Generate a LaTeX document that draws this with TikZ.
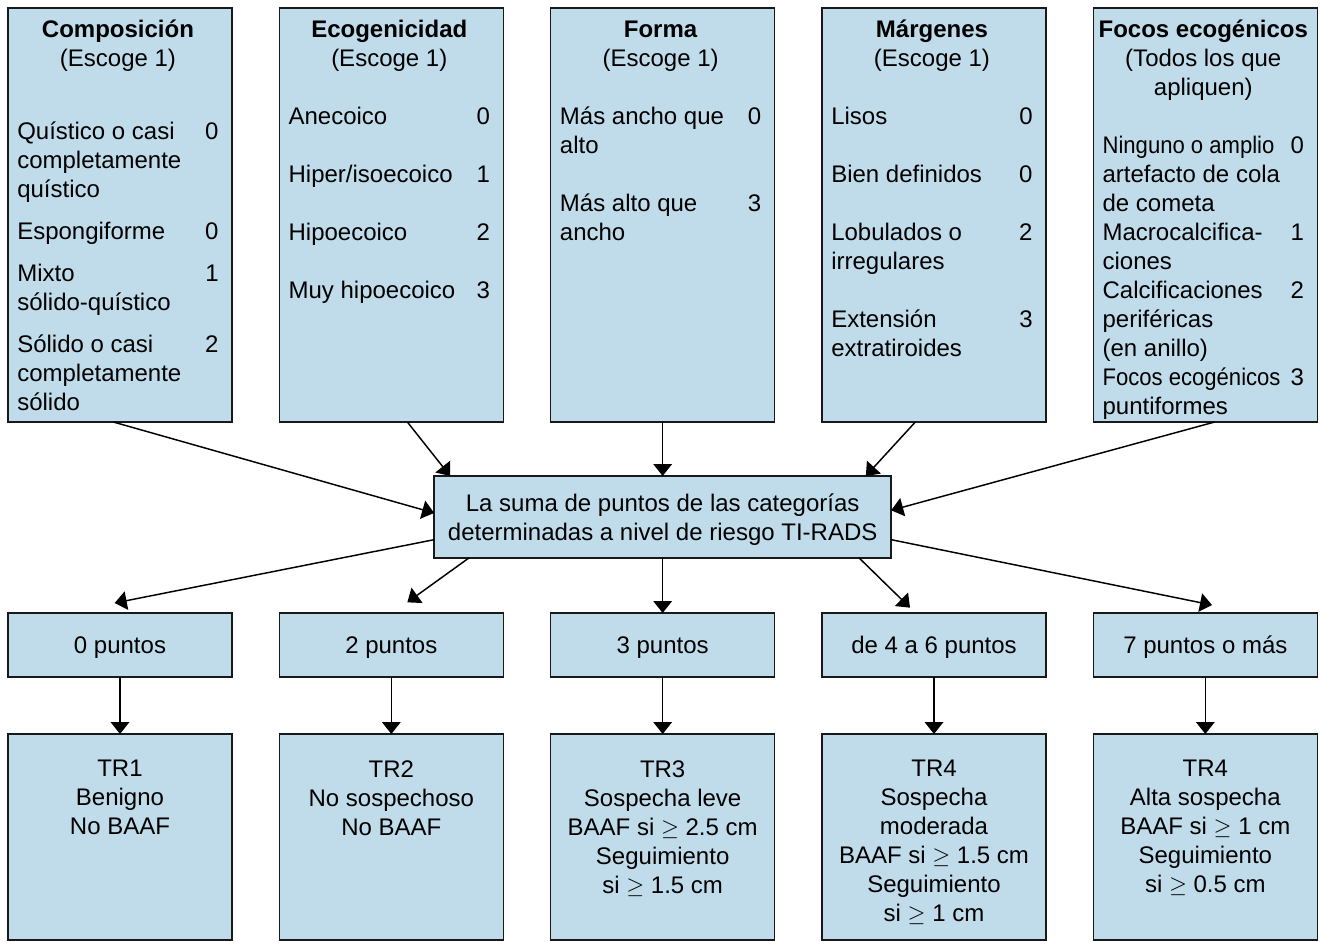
\documentclass[tikz,border=0pt]{standalone}
\usepackage{fontspec}
\setmainfont{Liberation Sans}
\usepackage{graphicx}
\usetikzlibrary{positioning, arrows.meta}

\definecolor{boxblue}{RGB}{192,220,234}
\newcommand{\pts}{\fontsize{18}{21.75}\selectfont}
\newcommand{\hdr}[1]{\multicolumn{2}{c}{\makebox[0pt]{#1}}}
\newcommand{\squeeze}[1]{\scalebox{0.92}[1]{#1}}

\begin{document}
\begin{tikzpicture}[x=0.75pt, y=-0.75pt, every node/.style={font=\pts},
    box/.style={rectangle, draw=black!90, line width=1.1pt, fill=boxblue, inner sep=0pt, outer sep=0pt},
    catbox/.style={box, minimum width=168pt, minimum height=310.5pt},
    sumbox/.style={box, minimum width=342.75pt, minimum height=61.5pt, align=center, text depth=0pt},
    ptsbox/.style={box, minimum width=168pt, minimum height=48pt, text depth=0pt},
    resbox/.style={box, minimum width=168pt, minimum height=154.5pt},
    cattext/.style={inner sep=0pt},
    restext/.style={inner sep=0pt, align=center},
    arr/.style={-{Triangle[length=9pt,width=14pt]}, line width=1.1pt}]

  \useasboundingbox (0,0) rectangle (1322,942);

  % category boxes
  \node [catbox] (comp) at (120,215) {};
  \node [catbox, right=35.5pt of comp] (eco) {};
  \node [catbox, right=35.5pt of eco] (forma) {};
  \node [catbox, right=35.5pt of forma] (marg) {};
  \node [catbox, right=35.5pt of marg] (focos) {};

  \node [cattext, below right=7pt and 6.75pt of comp.north west] (comptxt)
  {\begin{tabular}{@{}p{141pt}@{}l@{}}
     \hdr{\textbf{Composición}} \\
     \hdr{(Escoge 1)} \\[32.6pt]
     Quístico o casi & 0 \\
     completamente & \\
     quístico & \\[9.75pt]
     Espongiforme & 0 \\[9.75pt]
     Mixto & 1 \\
     sólido-quístico & \\[9.75pt]
     Sólido o casi & 2 \\
     completamente & \\
     sólido &
   \end{tabular}};

  \node [cattext, below right=7pt and 6.75pt of eco.north west] (ecotxt)
  {\begin{tabular}{@{}p{141pt}@{}l@{}}
     \hdr{\textbf{Ecogenicidad}} \\
     \hdr{(Escoge 1)} \\[21.75pt]
     Anecoico & 0 \\[21.75pt]
     Hiper/isoecoico & 1 \\[21.75pt]
     Hipoecoico & 2 \\[21.75pt]
     Muy hipoecoico & 3
   \end{tabular}};

  \node [cattext, below right=7pt and 6.75pt of forma.north west] (formatxt)
  {\begin{tabular}{@{}p{141pt}@{}l@{}}
     \hdr{\textbf{Forma}} \\
     \hdr{(Escoge 1)} \\[21.75pt]
     Más ancho que & 0 \\
     alto & \\[21.75pt]
     Más alto que & 3 \\
     ancho &
   \end{tabular}};

  \node [cattext, below right=7pt and 6.75pt of marg.north west] (margtxt)
  {\begin{tabular}{@{}p{141pt}@{}l@{}}
     \hdr{\textbf{Márgenes}} \\
     \hdr{(Escoge 1)} \\[21.75pt]
     Lisos & 0 \\[21.75pt]
     Bien definidos & 0 \\[21.75pt]
     Lobulados o & 2 \\
     irregulares & \\[21.75pt]
     Extensión & 3 \\
     extratiroides &
   \end{tabular}};

  \node [cattext, below right=7pt and 6.75pt of focos.north west] (focostxt)
  {\begin{tabular}{@{}p{141pt}@{}l@{}}
     \hdr{\textbf{Focos ecogénicos}} \\
     \hdr{(Todos los que} \\
     \hdr{apliquen)} \\[21.75pt]
     \squeeze{Ninguno o amplio} & 0 \\
     artefacto de cola & \\
     de cometa & \\
     Macrocalcifica- & 1 \\
     ciones & \\
     Calcificaciones & 2 \\
     periféricas & \\
     (en anillo) & \\
     \squeeze{Focos ecogénicos} & 3 \\
     puntiformes &
   \end{tabular}};

  % sum box
  \node [sumbox, below=40.5pt of forma] (sum)
  {La suma de puntos de las categorías\\determinadas a nivel de riesgo TI-RADS};

  % point boxes
  \node [ptsbox, below=41.25pt of sum] (p3) {3 puntos};
  \node [ptsbox, left=35.5pt of p3] (p2) {2 puntos};
  \node [ptsbox, left=35.5pt of p2] (p0) {0 puntos};
  \node [ptsbox, right=35.5pt of p3] (p46) {de 4 a 6 puntos};
  \node [ptsbox, right=35.5pt of p46] (p7) {7 puntos o más};

  % result boxes
  \node [resbox, below=42.75pt of p0] (tr1) {};
  \node [resbox, below=42.75pt of p2] (tr2) {};
  \node [resbox, below=42.75pt of p3] (tr3) {};
  \node [resbox, below=42.75pt of p46] (tr4) {};
  \node [resbox, below=42.75pt of p7] (tr5) {};

  \node [restext, below=19.5pt of tr1.north] (tr1txt) {TR1\\Benigno\\No BAAF};
  \node [restext, below=19.5pt of tr2.north] (tr2txt) {TR2\\No sospechoso\\No BAAF};
  \node [restext, below=19.5pt of tr3.north] (tr3txt)
  {TR3\\Sospecha leve\\BAAF si $\geq$ 2.5 cm\\Seguimiento\\si $\geq$ 1.5 cm};
  \node [restext, below=19.5pt of tr4.north] (tr4txt)
  {TR4\\Sospecha\\moderada\\BAAF si $\geq$ 1.5 cm\\Seguimiento\\si $\geq$ 1 cm};
  \node [restext, below=19.5pt of tr5.north] (tr5txt)
  {TR4\\Alta sospecha\\BAAF si $\geq$ 1 cm\\Seguimiento\\si $\geq$ 0.5 cm};

  % edges into the sum
  \draw [arr] ([xshift=-5pt]comp.south) -- ([yshift=3pt]sum.west);
  \draw [arr] ([xshift=12pt]eco.south) -- ([xshift=12pt]sum.north west);
  \draw [arr] (forma.south) -- (sum.north);
  \draw [arr] ([xshift=-14pt]marg.south) -- ([xshift=-19pt]sum.north east);
  \draw [arr] ([xshift=7pt]focos.south) -- ([yshift=5pt]sum.east);

  % edges out of the sum
  \draw [arr] ([yshift=-17pt]sum.west) -- ([xshift=-4pt,yshift=7.5pt]p0.north);
  \draw [arr] ([xshift=26pt]sum.south west) -- ([xshift=12pt,yshift=8pt]p2.north);
  \draw [arr] (sum.south) -- (p3.north);
  \draw [arr] ([xshift=-24pt]sum.south east) -- ([xshift=-18pt,yshift=4pt]p46.north);
  \draw [arr] ([yshift=-17pt]sum.east) -- ([xshift=5pt,yshift=6pt]p7.north);

  % points to results
  \draw [arr] (p0.south) -- (tr1.north);
  \draw [arr] (p2.south) -- (tr2.north);
  \draw [arr] (p3.south) -- (tr3.north);
  \draw [arr] (p46.south) -- (tr4.north);
  \draw [arr] (p7.south) -- (tr5.north);
\end{tikzpicture}
\end{document}
